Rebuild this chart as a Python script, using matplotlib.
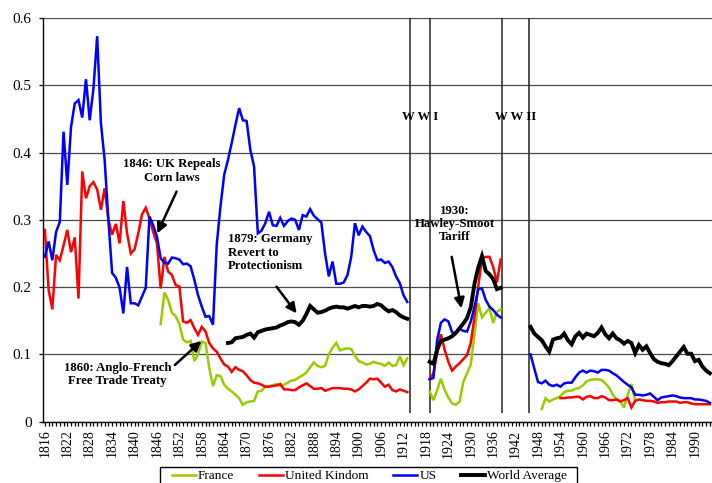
import numpy as np
import matplotlib
matplotlib.use("Agg")
import matplotlib.pyplot as plt
from matplotlib.lines import Line2D
from matplotlib.patches import Rectangle

# ---------------- data ----------------
first_year, last_year = 1816, 1994
years = np.arange(first_year, last_year + 1)

france_1847_1913 = [0.145, 0.192, 0.181, 0.162, 0.157, 0.145, 0.122, 0.118, 0.120, 0.090,
                    0.100, 0.119, 0.117, 0.080, 0.053, 0.069, 0.068, 0.055, 0.049, 0.045,
                    0.040, 0.035, 0.025, 0.029, 0.030, 0.031, 0.045, 0.046, 0.052, 0.053,
                    0.054, 0.056, 0.053, 0.055, 0.058, 0.061, 0.062, 0.066, 0.069, 0.073,
                    0.081, 0.088, 0.083, 0.081, 0.083, 0.100, 0.110, 0.117, 0.106, 0.108,
                    0.109, 0.108, 0.098, 0.090, 0.088, 0.085, 0.086, 0.089, 0.087, 0.086,
                    0.083, 0.088, 0.083, 0.084, 0.097, 0.084, 0.094]
france_1919_1938 = [0.045, 0.032, 0.047, 0.064, 0.047, 0.036, 0.027, 0.025, 0.030, 0.059,
                    0.072, 0.085, 0.130, 0.176, 0.155, 0.162, 0.169, 0.147, 0.163, 0.167]
france_1949_1974 = [0.019, 0.035, 0.030, 0.033, 0.035, 0.038, 0.044, 0.046, 0.046, 0.049,
                    0.050, 0.054, 0.060, 0.062, 0.063, 0.063, 0.062, 0.057, 0.051, 0.040,
                    0.034, 0.031, 0.021, 0.040, 0.056, 0.032]

uk_1816_1913 = [0.285, 0.196, 0.167, 0.248, 0.240, 0.262, 0.285, 0.252, 0.274, 0.183,
                0.372, 0.332, 0.350, 0.356, 0.345, 0.315, 0.347, 0.300, 0.278, 0.294,
                0.265, 0.328, 0.280, 0.250, 0.256, 0.280, 0.308, 0.318, 0.302, 0.282,
                0.265, 0.198, 0.245, 0.223, 0.218, 0.203, 0.201, 0.149, 0.147, 0.151,
                0.139, 0.129, 0.141, 0.134, 0.117, 0.109, 0.104, 0.094, 0.085, 0.082,
                0.074, 0.081, 0.077, 0.075, 0.069, 0.062, 0.058, 0.057, 0.055, 0.052,
                0.052, 0.053, 0.054, 0.056, 0.048, 0.048, 0.047, 0.047, 0.051, 0.054,
                0.057, 0.053, 0.049, 0.049, 0.050, 0.046, 0.048, 0.050, 0.050, 0.050,
                0.049, 0.049, 0.048, 0.045, 0.048, 0.053, 0.058, 0.064, 0.063, 0.064,
                0.058, 0.052, 0.055, 0.047, 0.045, 0.048, 0.046, 0.044]
uk_1919_1938 = [0.063, 0.072, 0.102, 0.130, 0.107, 0.089, 0.076, 0.082, 0.087, 0.093,
                0.099, 0.117, 0.156, 0.201, 0.243, 0.245, 0.245, 0.230, 0.207, 0.241]
uk_1954_1994 = [0.035, 0.035, 0.036, 0.036, 0.037, 0.037, 0.033, 0.037, 0.038, 0.035,
                0.035, 0.038, 0.036, 0.032, 0.032, 0.033, 0.030, 0.032, 0.035, 0.021,
                0.031, 0.033, 0.032, 0.031, 0.031, 0.030, 0.028, 0.029, 0.029, 0.030,
                0.030, 0.030, 0.028, 0.029, 0.029, 0.027, 0.026, 0.026, 0.026, 0.026,
                0.026]

us_1816_1913 = [0.245, 0.268, 0.240, 0.282, 0.297, 0.431, 0.352, 0.438, 0.473, 0.478,
                0.452, 0.509, 0.448, 0.495, 0.573, 0.444, 0.389, 0.300, 0.221, 0.214,
                0.199, 0.161, 0.230, 0.176, 0.176, 0.173, 0.186, 0.199, 0.305, 0.292,
                0.275, 0.243, 0.236, 0.235, 0.244, 0.243, 0.241, 0.234, 0.235, 0.231,
                0.211, 0.188, 0.171, 0.156, 0.157, 0.144, 0.263, 0.320, 0.367, 0.389,
                0.414, 0.441, 0.466, 0.448, 0.447, 0.404, 0.379, 0.280, 0.284, 0.295,
                0.312, 0.292, 0.291, 0.303, 0.291, 0.298, 0.302, 0.300, 0.285, 0.307,
                0.305, 0.316, 0.306, 0.301, 0.296, 0.250, 0.216, 0.238, 0.205, 0.205,
                0.207, 0.218, 0.245, 0.295, 0.277, 0.290, 0.282, 0.276, 0.255, 0.240,
                0.241, 0.236, 0.238, 0.230, 0.216, 0.206, 0.188, 0.178]
us_1919_1938 = [0.063, 0.065, 0.121, 0.147, 0.152, 0.149, 0.133, 0.131, 0.138, 0.135,
                0.134, 0.149, 0.171, 0.197, 0.198, 0.181, 0.171, 0.166, 0.159, 0.155]
us_1946_1994 = [0.100, 0.079, 0.059, 0.057, 0.061, 0.055, 0.053, 0.055, 0.052, 0.057,
                0.058, 0.058, 0.066, 0.073, 0.076, 0.073, 0.076, 0.075, 0.073, 0.077,
                0.077, 0.076, 0.072, 0.069, 0.064, 0.059, 0.055, 0.051, 0.040, 0.040,
                0.039, 0.040, 0.042, 0.037, 0.032, 0.036, 0.037, 0.038, 0.039, 0.038,
                0.036, 0.035, 0.035, 0.035, 0.033, 0.033, 0.032, 0.031, 0.028]

world_1865_1913 = [0.117, 0.118, 0.124, 0.125, 0.126, 0.129, 0.131, 0.125, 0.133, 0.135,
                   0.137, 0.138, 0.139, 0.140, 0.143, 0.145, 0.148, 0.149, 0.148, 0.144,
                   0.150, 0.160, 0.172, 0.167, 0.162, 0.163, 0.165, 0.168, 0.170, 0.171,
                   0.170, 0.170, 0.168, 0.170, 0.172, 0.170, 0.172, 0.172, 0.171, 0.172,
                   0.175, 0.173, 0.168, 0.164, 0.166, 0.163, 0.158, 0.155, 0.153]
world_1919_1938 = [0.089, 0.086, 0.107, 0.120, 0.122, 0.124, 0.127, 0.132, 0.139, 0.146,
                   0.154, 0.170, 0.205, 0.229, 0.246, 0.224, 0.219, 0.212, 0.197, 0.199]
world_1946_1994 = [0.141, 0.131, 0.126, 0.121, 0.112, 0.104, 0.122, 0.124, 0.125, 0.131,
                   0.121, 0.115, 0.127, 0.132, 0.125, 0.131, 0.129, 0.127, 0.132, 0.140,
                   0.130, 0.124, 0.131, 0.124, 0.121, 0.116, 0.120, 0.117, 0.102, 0.114,
                   0.107, 0.112, 0.102, 0.093, 0.089, 0.087, 0.086, 0.084, 0.090, 0.097,
                   0.104, 0.111, 0.101, 0.101, 0.090, 0.092, 0.082, 0.076, 0.072]

series_names = ["France", "United Kindom", "US", "World Average"]
war_bounds = [1913.75, 1919.05, 1938.3, 1945.7]
war_labels = ["W W I", "W W II"]


def build(*segments):
    arr = np.full(len(years), np.nan)
    for start, vals in segments:
        i = start - first_year
        arr[i:i + len(vals)] = vals
    return arr


france = build((1847, france_1847_1913), (1919, france_1919_1938), (1949, france_1949_1974))
uk = build((1816, uk_1816_1913), (1919, uk_1919_1938), (1954, uk_1954_1994))
us = build((1816, us_1816_1913), (1919, us_1919_1938), (1946, us_1946_1994))
world = build((1865, world_1865_1913), (1919, world_1919_1938), (1946, world_1946_1994))

# ---------------- figure ----------------
W, H = 712, 483
fig = plt.figure(figsize=(W / 100, H / 100), dpi=100)
serif = ["Liberation Serif", "DejaVu Serif"]
plt.rcParams["font.family"] = serif

left_px, top_px, bottom_px = 43, 18, 421.7
ax = fig.add_axes([left_px / W, (H - bottom_px) / H, (W - left_px) / W, (bottom_px - top_px) / H])
ax.set_xlim(1815.5, 1815.5 + (W - left_px) / 3.736)
ax.set_ylim(0, 0.6)

colors = ["#99CC00", "#FF0000", "#0000FF", "#000000"]
widths = [1.8, 1.8, 1.8, 2.8]
for data, c, lw in zip([france, uk, us, world], colors, widths):
    ax.plot(years, data, color=c, lw=lw, solid_joinstyle="miter", zorder=3)

# grid and axes
ax.set_yticks(np.arange(0, 0.61, 0.1))
ax.set_yticklabels(["0", "0.1", "0.2", "0.3", "0.4", "0.5", "0.6"])
ax.yaxis.grid(True, color="#4a4a4a", lw=0.9)
ax.set_axisbelow(True)
for s in ["top", "right"]:
    ax.spines[s].set_visible(False)
for s in ["left", "bottom"]:
    ax.spines[s].set_color("black")
    ax.spines[s].set_linewidth(1.0)

ax.set_xticks(years)
ax.set_xticklabels([str(y) if (y - first_year) % 6 == 0 else "" for y in years],
                   rotation=90)
ax.tick_params(axis="x", direction="out", length=3.2, width=0.9, pad=2.5, labelsize=10)
ax.tick_params(axis="y", direction="out", length=3.2, width=0.9, pad=5, labelsize=11)

# war boundary lines
ax.vlines(war_bounds, 0.0125, 0.6, colors="#333333", lw=1.2, zorder=2)
bold = dict(fontweight="bold", fontsize=9.2, family=serif)
ax.text((war_bounds[0] + war_bounds[1]) / 2, 0.453, war_labels[0], ha="center", va="center",
        **bold)
ax.text((war_bounds[2] + war_bounds[3]) / 2, 0.453, war_labels[1], ha="center", va="center",
        **bold)

arrow = dict(arrowstyle="-|>", color="black", lw=1.8, mutation_scale=15,
             shrinkA=0, shrinkB=0)

ax.text(1850.0, 0.3726, "1846: UK Repeals\nCorn laws", ha="center", va="center",
        multialignment="center", linespacing=1.15, **bold)
ax.annotate("", xy=(1846.1, 0.280), xytext=(1851.25, 0.342), arrowprops=arrow, zorder=5)

ax.text(1835.5, 0.0699, "1860: Anglo-French\nFree Trade Treaty", ha="center", va="center",
        multialignment="center", linespacing=1.15, **bold)
ax.annotate("", xy=(1857.9, 0.120), xytext=(1850.8, 0.0843), arrowprops=arrow, zorder=5)

ax.text(1864.9, 0.251, "1879: Germany\nRevert to\nProtectionism", ha="left", va="center",
        multialignment="left", linespacing=1.15, **bold)
ax.annotate("", xy=(1883.4, 0.161), xytext=(1878.0, 0.2007), arrowprops=arrow, zorder=5)

ax.text(1925.7, 0.294, "1930:\nHawley-Smoot\nTariff", ha="center", va="center",
        multialignment="center", linespacing=1.15, **bold)
ax.annotate("", xy=(1927.5, 0.1686), xytext=(1924.9, 0.245), arrowprops=arrow, zorder=5)

# legend (its box runs past the bottom edge of the figure, as in the reference)
fig.patches.append(Rectangle((160 / W, -0.05), (577 - 160) / W, 0.05 + 1 - 467 / H,
                             transform=fig.transFigure, facecolor="white",
                             edgecolor="black", lw=1.0, zorder=4))
handles = [Line2D([], [], color=c, lw=lw) for c, lw in zip(colors, widths)]
leg = fig.legend(handles, series_names, loc="upper left",
                 bbox_to_anchor=(172 / W, 1 - 470 / H), ncol=4, frameon=False,
                 borderaxespad=0, borderpad=0, handlelength=1.8, handletextpad=0.15,
                 columnspacing=1.85, prop=dict(family=serif, size=9.6))
leg.set_zorder(5)

fig.savefig("out.png", dpi=100)
